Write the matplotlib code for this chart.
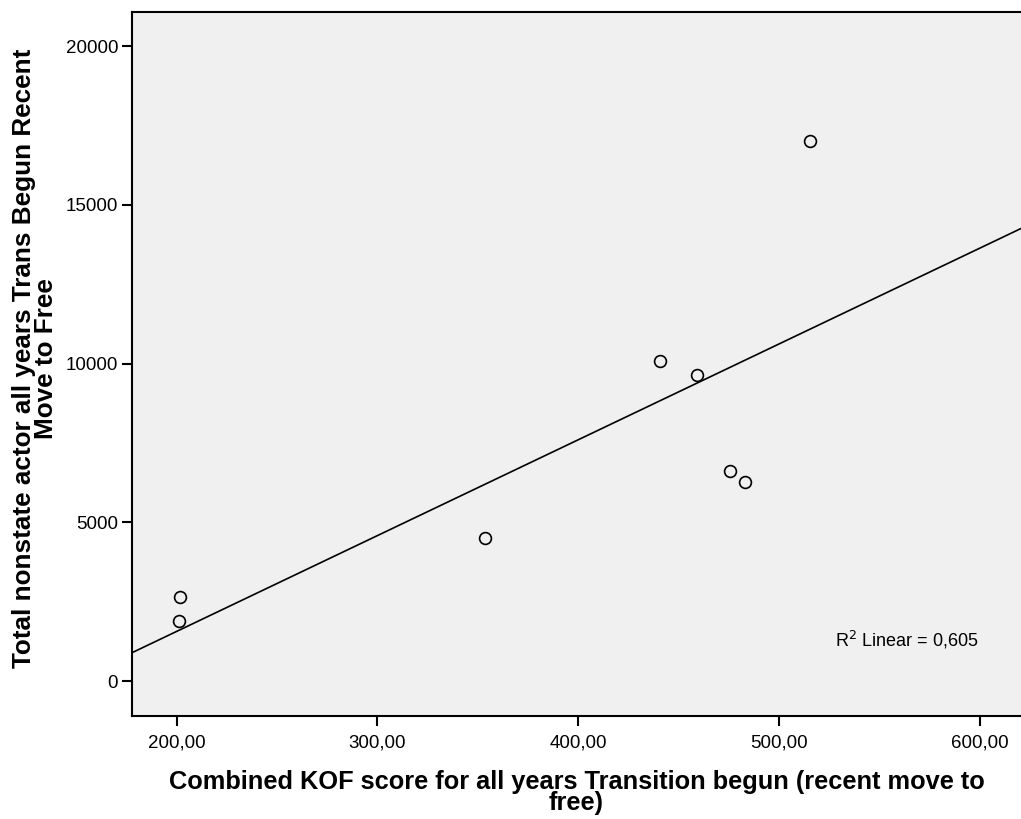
import numpy as np
import matplotlib.pyplot as plt
from matplotlib.ticker import FuncFormatter

plt.rcParams['font.family'] = ['Liberation Sans', 'DejaVu Sans']

# combined KOF score vs total nonstate actor
kof = [201.6, 201.3, 353.4, 440.6, 459.3, 475.6, 482.9, 515.4]
nonstate = [2656, 1890, 4504, 10090, 9639, 6615, 6278, 17010]
x_ticks = [200, 300, 400, 500, 600]
y_ticks = [0, 5000, 10000, 15000, 20000]
r2_text = "R$^2$ Linear = 0,605"

fig = plt.figure(figsize=(10.21, 8.19), dpi=100)
ax = fig.add_axes([132 / 1021, 103 / 819, 1 - 132 / 1021, 704 / 819])
ax.set_facecolor('#f0f0f0')

x = np.array(kof)
y = np.array(nonstate)
ax.plot(x, y, 'o', mfc='none', mec='black', ms=8.5, mew=1.2, zorder=3)

# fit line across the whole axis
slope, icpt = np.polyfit(x, y, 1)
xl = np.array([170, 630])
ax.plot(xl, slope * xl + icpt, color='black', lw=1.2)

ax.set_xlim(177.8, 620.4)
ax.set_ylim(-1102, 21071)
ax.set_xticks(x_ticks)
ax.set_yticks(y_ticks)
ax.xaxis.set_major_formatter(FuncFormatter(lambda v, p: f"{v:.2f}".replace('.', ',')))
ax.tick_params(length=7, width=1.5, labelsize=13.5, color='black')
ax.tick_params(axis='x', pad=6)
ax.tick_params(axis='y', pad=3)

for s in ['left', 'bottom', 'top']:
    ax.spines[s].set_linewidth(1.5)
ax.spines['right'].set_visible(False)

ax.set_xlabel("Combined KOF score for all years Transition begun (recent move to\nfree)",
              fontsize=18.3, fontweight='bold', linespacing=0.88)
ax.xaxis.set_label_coords(0.5, -0.076)
ax.set_ylabel("Total nonstate actor all years Trans Begun Recent\nMove to Free",
              fontsize=18.8, fontweight='bold', linespacing=0.88)
ax.yaxis.set_label_coords(-0.083, 0.508)

ax.text(0.871, 0.108, r2_text, transform=ax.transAxes, fontsize=13,
        ha='center', va='center')

fig.savefig('out.png', dpi=100)
